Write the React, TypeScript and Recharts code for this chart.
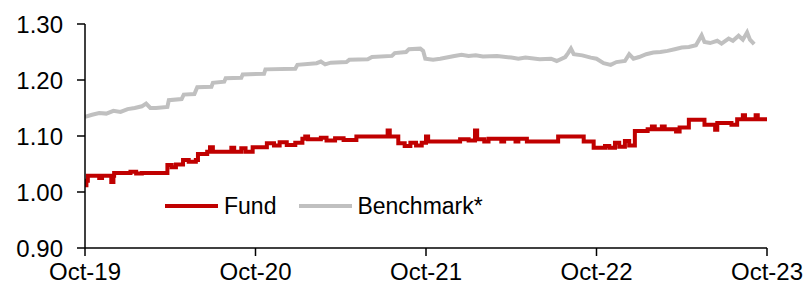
import React from "react";
import { LineChart, Line, XAxis, YAxis } from "recharts";

// months since Oct-19
const fundMonths = [
  0, 0.1, 0.2, 1.0, 1.2, 1.85, 2.0, 2.05, 3.2, 3.6, 4.0, 5.8, 6.1, 6.4, 6.9, 7.3, 7.8, 7.95,
  8.6, 8.8, 9.0, 10.3, 10.5, 11.0, 11.3, 11.8, 12.8, 13.3, 13.7, 14.2, 14.8, 15.3, 15.5, 15.7,
  16.6, 17.0, 17.6, 18.2, 19.1, 21.3, 21.45, 22.05, 22.5, 22.9, 23.3, 23.7, 24.0, 24.15, 26.4,
  27.0, 27.45, 27.6, 28.1, 28.4, 29.3, 29.5, 30.3, 30.5, 31.1, 33.3, 35.1, 35.8, 36.6, 36.9,
  37.3, 37.6, 38.0, 38.3, 38.7, 39.6, 39.9, 40.1, 40.6, 40.8, 41.6, 41.85, 42.5, 43.6, 44.35,
  44.5, 45.5, 45.9, 46.3, 46.45, 47.2, 47.35, 48.1,
];
const fundValues = [
  1.012, 1.02, 1.029, 1.025, 1.029, 1.018, 1.029, 1.034, 1.036, 1.033, 1.034, 1.048, 1.044,
  1.049, 1.057, 1.054, 1.057, 1.068, 1.072, 1.08, 1.072, 1.079, 1.072, 1.078, 1.072, 1.08,
  1.087, 1.083, 1.089, 1.084, 1.088, 1.095, 1.099, 1.094, 1.097, 1.092, 1.096, 1.093, 1.099,
  1.11, 1.099, 1.087, 1.082, 1.088, 1.083, 1.088, 1.099, 1.09, 1.094, 1.092, 1.11, 1.094, 1.09,
  1.095, 1.09, 1.095, 1.09, 1.095, 1.09, 1.099, 1.09, 1.079, 1.082, 1.079, 1.088, 1.081, 1.091,
  1.083, 1.109, 1.112, 1.117, 1.112, 1.117, 1.112, 1.108, 1.115, 1.129, 1.12, 1.111, 1.123,
  1.12, 1.13, 1.137, 1.13, 1.137, 1.13, 1.13,
];

const benchMonths = [
  0, 0.5, 1.0, 1.5, 2.0, 2.5, 3.0, 3.5, 4.0, 4.3, 4.6, 5.0, 5.8, 5.9, 6.8, 6.95, 7.7, 7.9, 8.9,
  9.0, 9.8, 9.9, 11.0, 11.1, 12.6, 12.7, 14.8, 14.95, 16.3, 16.6, 16.9, 17.3, 18.4, 18.6, 19.9,
  20.2, 21.6, 21.8, 22.6, 22.8, 23.6, 23.8, 23.95, 24.5, 25.0, 26.0, 26.5, 27.0, 27.5, 28.0,
  29.0, 30.0, 30.5, 31.0, 32.0, 32.8, 33.2, 33.8, 34.0, 34.2, 34.4, 35.0, 35.6, 36.0, 36.5,
  37.0, 37.4, 38.0, 38.3, 38.6, 39.0, 39.5, 40.0, 40.5, 41.0, 41.5, 42.0, 42.5, 43.0, 43.4,
  43.6, 44.0, 44.5, 44.8, 45.3, 45.6, 46.0, 46.3, 46.6, 46.8, 47.1,
];
const benchValues = [
  1.134, 1.138, 1.141, 1.14, 1.145, 1.143, 1.148, 1.15, 1.153, 1.158, 1.15, 1.15, 1.152, 1.164,
  1.166, 1.174, 1.175, 1.187, 1.188, 1.195, 1.197, 1.203, 1.204, 1.21, 1.211, 1.219, 1.22,
  1.227, 1.23, 1.233, 1.228, 1.231, 1.232, 1.236, 1.237, 1.241, 1.243, 1.248, 1.25, 1.255,
  1.256, 1.252, 1.238, 1.236, 1.238, 1.243, 1.245, 1.243, 1.244, 1.242, 1.243, 1.24, 1.238,
  1.24, 1.237, 1.238, 1.234, 1.241, 1.248, 1.256, 1.246, 1.244, 1.24, 1.238, 1.23, 1.227,
  1.232, 1.234, 1.246, 1.238, 1.241, 1.246, 1.249, 1.25, 1.252, 1.255, 1.258, 1.259, 1.262,
  1.28, 1.268, 1.266, 1.27, 1.265, 1.274, 1.27, 1.279, 1.272, 1.285, 1.272, 1.264,
];

const xTicks = [0, 12, 24, 36, 48];
const xLabels = ["Oct-19", "Oct-20", "Oct-21", "Oct-22", "Oct-23"];
const yTicks = [0.9, 1.0, 1.1, 1.2, 1.3];

const fundData = fundMonths.map((m, i) => ({ m, v: fundValues[i] }));
const benchData = benchMonths.map((m, i) => ({ m, v: benchValues[i] }));

const FONT = "Arial, 'Liberation Sans', sans-serif";
const FS = 24;

// legend drawn over the plot, like the Excel original
const LegendBox = () => (
  <div
    style={{
      position: "absolute",
      left: 165,
      top: 191,
      display: "flex",
      alignItems: "center",
      fontFamily: FONT,
      fontSize: 23,
      lineHeight: "30px",
      color: "#000",
    }}
  >
    <span style={{ width: 53, height: 4, background: "#c00000", display: "inline-block", marginRight: 6 }} />
    <span style={{ marginRight: 23 }}>Fund</span>
    <span style={{ width: 53, height: 4, background: "#c0c0c0", display: "inline-block", marginRight: 5 }} />
    <span>Benchmark*</span>
  </div>
);

export default function App() {
  return (
    <div style={{ position: "absolute", left: 0, top: 0, width: 807, height: 290, background: "#fff" }}>
      <LineChart width={807} height={290} margin={{ top: 24, right: 40, bottom: 0, left: 0 }}>
        <XAxis
          type="number"
          dataKey="m"
          domain={[0, 48]}
          ticks={xTicks}
          tickFormatter={(v: number) => xLabels[xTicks.indexOf(v)]}
          height={42}
          tickSize={8}
          tickMargin={7}
          stroke="#000"
          strokeWidth={1.5}
          tick={{ fill: "#000", fontSize: FS, fontFamily: FONT }}
          allowDataOverflow
        />
        <YAxis
          type="number"
          domain={[0.9, 1.3]}
          ticks={yTicks}
          tickFormatter={(v: number) => v.toFixed(2)}
          width={85}
          tickSize={8}
          tickMargin={14}
          stroke="#000"
          strokeWidth={1.5}
          tick={{ fill: "#000", fontSize: FS, fontFamily: FONT }}
        />
        <Line
          data={benchData}
          dataKey="v"
          type="linear"
          stroke="#c0c0c0"
          strokeWidth={4}
          dot={false}
          isAnimationActive={false}
        />
        <Line
          data={fundData}
          dataKey="v"
          type="stepAfter"
          stroke="#c00000"
          strokeWidth={4}
          dot={false}
          isAnimationActive={false}
        />
      </LineChart>
      <LegendBox />
    </div>
  );
}
